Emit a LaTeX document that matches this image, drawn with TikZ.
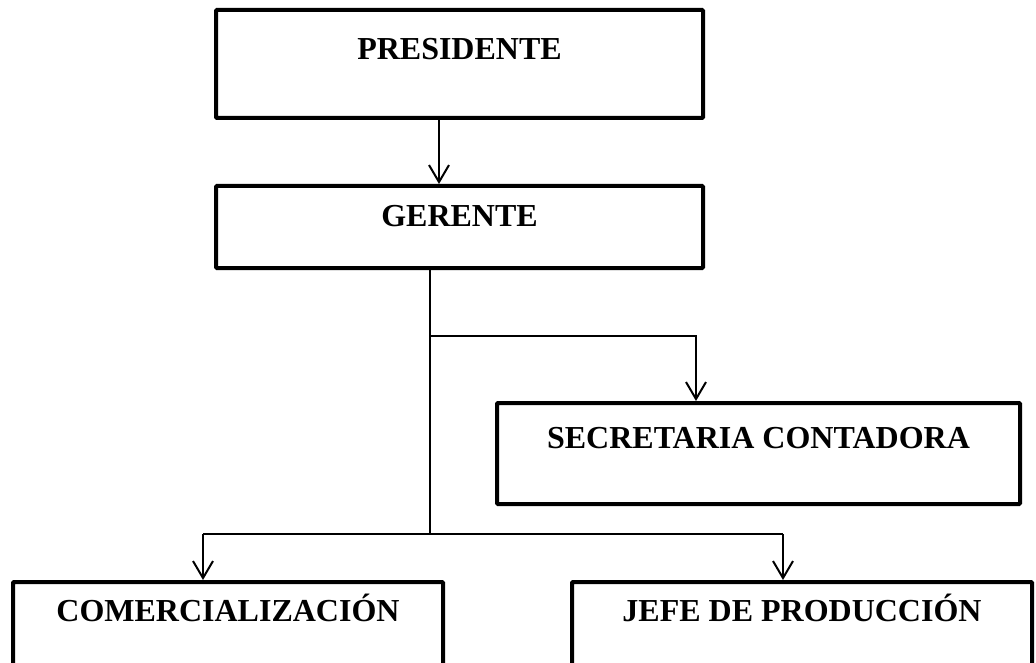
\documentclass[tikz,border=0pt]{standalone}
\usepackage{fontspec}
\setmainfont{Liberation Serif}
\usetikzlibrary{arrows.meta}
\begin{document}
\begin{tikzpicture}[x=1pt,y=-1pt,
  box/.style={draw=black, line width=4pt, rectangle, rounded corners=1pt, inner sep=0pt},
  lbl/.style={font=\fontsize{32}{36}\selectfont\bfseries, inner sep=0pt, anchor=base},
  conn/.style={line width=2pt, draw=black},
  arr/.style={conn, -{Straight Barb[length=17pt,width=20pt,line width=2pt]}}]
\useasboundingbox (0,0) rectangle (1036,663);
\begin{scope}
\clip (0,0) rectangle (1036,663);
\node[box, minimum width=487pt, minimum height=108pt,
  label={[lbl, yshift=-52pt]north:PRESIDENTE}] (pres) at (459.5,64) {};
\node[box, minimum width=487pt, minimum height=82pt,
  label={[lbl, yshift=-43pt]north:GERENTE}] (ger) at (459.5,227) {};
\node[box, minimum width=523pt, minimum height=101pt,
  label={[lbl, yshift=-47pt]north:SECRETARIA CONTADORA}] (sec) at (758.5,453.5) {};
\node[box, minimum width=430pt, minimum height=85pt,
  label={[lbl, yshift=-41pt]north:COMERCIALIZACIÓN}] (com) at (228,624.5) {};
\node[box, minimum width=460pt, minimum height=85pt,
  label={[lbl, yshift=-41pt]north:JEFE DE PRODUCCIÓN}] (jefe) at (802,624.5) {};
\end{scope}
\coordinate (j1) at (430,336);
\coordinate (j2) at (430,534);
\coordinate (j3) at (696,336);
\coordinate (j4) at (203,534);
\coordinate (j5) at (783,534);
\draw[arr] ([xshift=-20.5pt]pres.south) -- ([xshift=-20.5pt]ger.north);
\draw[conn] (ger.south -| j1) -- (j2);
\draw[arr] (j1) -- (j3) -- (sec.north -| j3);
\draw[conn] (j4) -- (j5);
\draw[arr] (j4) -- (com.north -| j4);
\draw[arr] (j5) -- (jefe.north -| j5);
\end{tikzpicture}
\end{document}
